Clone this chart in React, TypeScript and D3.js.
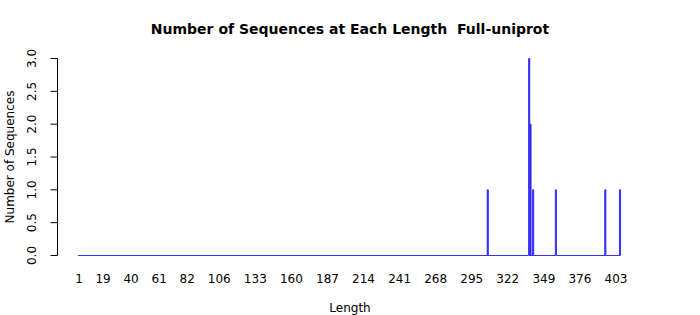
import React, { useEffect, useRef } from "react";
import * as d3 from "d3";

const minLength = 1;
const maxLength = 406;
const nonZeroLengths = [307, 338, 339, 341, 358, 395, 406];
const nonZeroCounts = [1, 3, 2, 1, 1, 1, 1];
const xTickLabels = [1, 19, 40, 61, 82, 106, 133, 160, 187, 214, 241, 268, 295, 322, 349, 376, 403];
const yTicks = [0, 0.5, 1, 1.5, 2, 2.5, 3];

export default function App() {
  const ref = useRef<SVGSVGElement | null>(null);
  useEffect(() => {
    const svg = d3.select(ref.current);
    svg.selectAll("*").remove();
    const W = 700, H = 315;
    const font = "DejaVu Sans, sans-serif";
    const lengths = d3.range(minLength, maxLength + 1);
    const countMap = new Map(nonZeroLengths.map((l, i) => [l, nonZeroCounts[i]]));
    const data = lengths.map((l) => ({ len: l, count: countMap.get(l) ?? 0 }));

    const x = d3.scaleLinear().domain([minLength, maxLength]).range([79, 620]);
    const step = x(2) - x(1);
    const bw = step / 1.2;
    const y = d3.scaleLinear().domain([0, 3]).range([255.5, 58.5]);

    svg.append("rect").attr("width", W).attr("height", H).attr("fill", "white");

    svg.append("text")
      .attr("x", 350).attr("y", 34)
      .attr("text-anchor", "middle")
      .attr("xml:space", "preserve")
      .style("white-space", "pre")
      .attr("font-family", font).attr("font-weight", "bold").attr("font-size", 14)
      .text("Number of Sequences at Each Length  Full-uniprot");

    // bars (zero-height bars still show their border as a line)
    const g = svg.append("g");
    g.selectAll("path.bar").data(data).enter().append("path")
      .attr("class", "bar")
      .attr("d", (d) => {
        const y0 = y(0), y1 = y(d.count);
        if (d.count === 0) {
          const a = d.len === minLength ? x(d.len) - bw / 2 : x(d.len) - step / 2;
          const b = d.len === maxLength ? x(d.len) + bw / 2 : x(d.len) + step / 2;
          return `M${a},${y0}H${b}`;
        }
        const x0 = x(d.len) - bw / 2, x1 = x(d.len) + bw / 2;
        return `M${x0},${y0}H${x1}V${y1}H${x0}Z`;
      })
      .attr("fill", "#5000d0")
      .attr("stroke", "#3333ff")
      .attr("stroke-width", 1)
      .attr("stroke-linejoin", "bevel")
      .attr("shape-rendering", (d) => (d.count === 0 ? "crispEdges" : "auto"));

    // y axis
    const ax = svg.append("g").attr("transform", "translate(57.5,0)");
    ax.append("line").attr("x1", 0).attr("x2", 0).attr("y1", y(3)).attr("y2", y(0)).attr("stroke", "black");
    yTicks.forEach((t) => {
      ax.append("line").attr("x1", -7).attr("x2", 0).attr("y1", y(t)).attr("y2", y(t)).attr("stroke", "black");
      ax.append("text")
        .attr("transform", `translate(-21.5,${y(t)}) rotate(-90)`)
        .attr("text-anchor", "middle")
        .attr("font-family", font).attr("font-size", 12)
        .text(d3.format(".1f")(t));
    });

    // x tick labels
    xTickLabels.forEach((t) => {
      svg.append("text")
        .attr("x", x(t)).attr("y", 283)
        .attr("text-anchor", "middle")
        .attr("font-family", font).attr("font-size", 12)
        .text(String(t));
    });

    svg.append("text")
      .attr("x", 350).attr("y", 312)
      .attr("text-anchor", "middle")
      .attr("font-family", font).attr("font-size", 12)
      .text("Length");

    svg.append("text")
      .attr("transform", `translate(14,157) rotate(-90)`)
      .attr("text-anchor", "middle")
      .attr("font-family", font).attr("font-size", 12)
      .text("Number of Sequences");
  }, []);
  return <svg ref={ref} width={700} height={315} style={{ position: "absolute", left: 0, top: 0 }} />;
}
